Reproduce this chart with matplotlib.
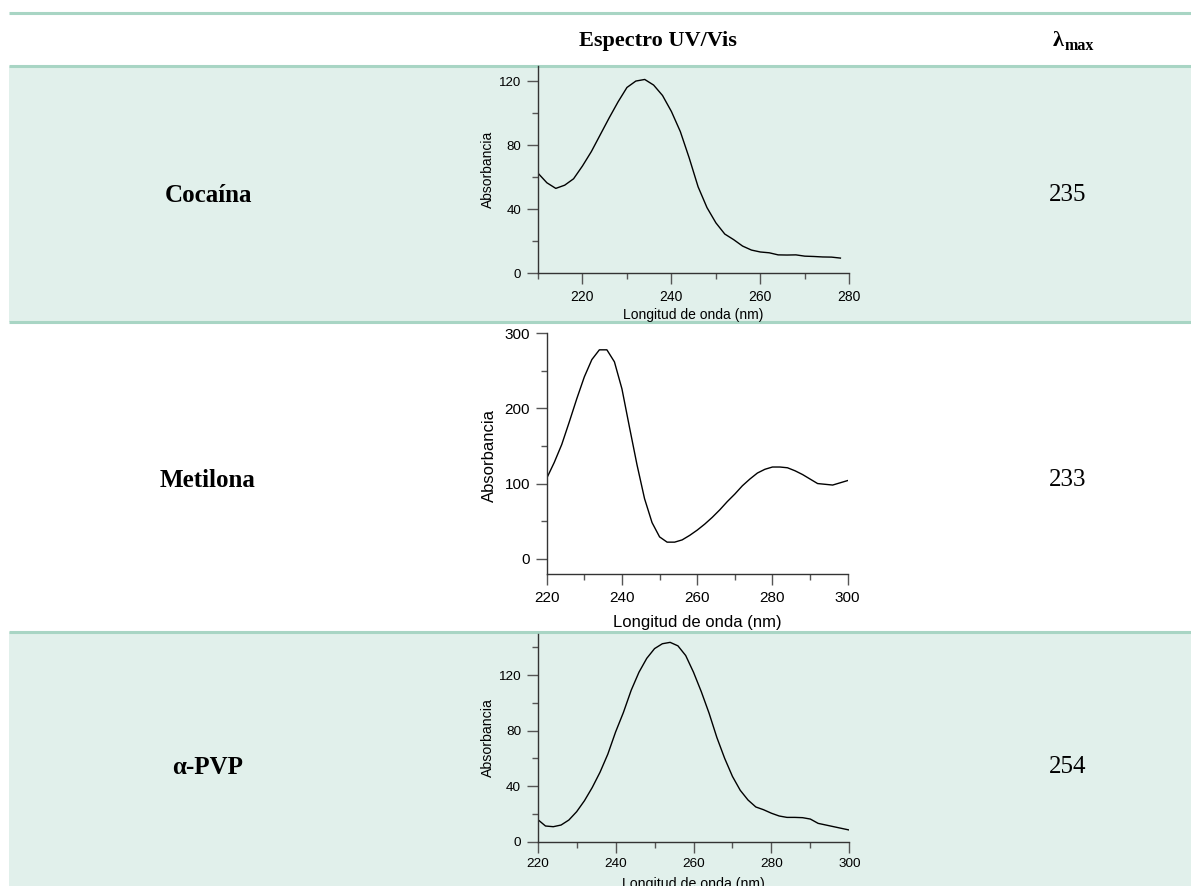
import matplotlib
matplotlib.use("Agg")
import matplotlib.pyplot as plt
from matplotlib.ticker import MultipleLocator

# --- data ---
compounds = ["Cocaína", "Metilona", "α-PVP"]
lambda_max = ["235", "233", "254"]

coca_nm = [210, 212, 214, 216, 218, 220, 222, 224, 226, 228, 230, 232, 234, 236, 238, 240,
           242, 244, 246, 248, 250, 252, 254, 256, 258, 260, 262, 264, 266, 268, 270, 272,
           274, 276, 278]
coca_abs = [62.5, 56.5, 53, 55, 59, 67, 76, 86.5, 97, 107, 116, 120, 121, 117.5, 111, 101,
            88.5, 72, 54, 41, 31.5, 24.5, 21, 17, 14.5, 13.3, 12.8, 11.5, 11.4, 11.5, 10.7,
            10.5, 10.2, 10.1, 9.5]

meti_nm = [220, 222, 224, 226, 228, 230, 232, 234, 236, 238, 240, 242, 244, 246, 248, 250,
           252, 254, 256, 258, 260, 262, 264, 266, 268, 270, 272, 274, 276, 278, 280, 282,
           284, 286, 288, 290, 292, 294, 296, 298, 300]
meti_abs = [107, 128, 152, 182, 213, 242, 265, 278, 278, 262, 226, 175, 125, 80, 48, 29,
            22, 22, 25, 31, 38, 46, 55, 65, 76, 86, 97, 106, 114, 119, 122, 122,
            121, 117, 112, 106, 100, 99, 98, 101, 104]

pvp_nm = [220, 222, 224, 226, 228, 230, 232, 234, 236, 238, 240, 242, 244, 246, 248, 250,
          252, 254, 256, 258, 260, 262, 264, 266, 268, 270, 272, 274, 276, 278, 280, 282,
          284, 286, 288, 290, 292, 294, 296, 298, 300]
pvp_abs = [16, 11.3, 10.8, 12, 15.6, 21.6, 29.5, 39, 50, 63, 79, 93, 109, 122, 132, 139,
           142.5, 143.5, 141, 134, 122, 108, 92.5, 75, 60, 47, 37, 30, 25, 23, 20.5, 18.5,
           17.5, 17.5, 17.3, 16.3, 13.2, 12, 10.8, 9.6, 8.4]

W, H = 1191, 886
SHADE = "#e1f0eb"
LINE = "#a8d5c4"
SANS = ["Liberation Sans", "DejaVu Sans"]
SERIF = ["Liberation Serif", "DejaVu Serif"]

fig = plt.figure(figsize=(W / 100, H / 100), dpi=100)

def fx(x): return x / W
def fy(y): return 1 - y / H

def box(l, t, r, b):
    return [l / W, 1 - b / H, (r - l) / W, (b - t) / H]

# table background and rules
bg = fig.add_axes([0, 0, 1, 1])
bg.set_xlim(0, W)
bg.set_ylim(H, 0)
bg.axis("off")
bg.axhspan(66, 322, xmin=9 / W, xmax=1, color=SHADE, lw=0)
bg.axhspan(632, H, xmin=9 / W, xmax=1, color=SHADE, lw=0)
for yl in [13, 66, 322, 632]:
    bg.plot([9, W], [yl, yl], color=LINE, lw=2.2, solid_capstyle="butt")

bg.text(658, 41, "Espectro UV/Vis", ha="center", va="center", fontsize=16,
        fontweight="bold", family=SERIF)
bg.text(1058, 41, "λ", ha="center", va="center", fontsize=16, fontweight="bold", family=SERIF)
bg.text(1065, 46, "max", ha="left", va="center", fontsize=11.5, fontweight="bold", family=SERIF)

row_y = [195, 480, 767]
for name, val, yy in zip(compounds, lambda_max, row_y):
    bg.text(208, yy, name, ha="center", va="center", fontsize=18, fontweight="bold", family=SERIF)
    bg.text(1068, yy, val, ha="center", va="center", fontsize=18, family=SERIF)


def spectrum(rect, x, y, xlim, ylim, xmaj, xmin_, ymaj, ymin_, tfx, tfy, lab, ylab_pos, xlab_pos):
    ax = fig.add_axes(box(*rect))
    ax.patch.set_alpha(0)
    ax.plot(x, y, color="black", lw=1.0)
    ax.set_xlim(*xlim)
    ax.set_ylim(*ylim)
    for s in ["top", "right"]:
        ax.spines[s].set_visible(False)
    for s in ["left", "bottom"]:
        ax.spines[s].set_color("#333333")
        ax.spines[s].set_linewidth(1.0)
    ax.xaxis.set_major_locator(MultipleLocator(xmaj))
    ax.xaxis.set_minor_locator(MultipleLocator(xmin_))
    ax.yaxis.set_major_locator(MultipleLocator(ymaj))
    ax.yaxis.set_minor_locator(MultipleLocator(ymin_))
    ax.tick_params(which="major", direction="out", length=8, width=1, color="#555555", pad=4)
    ax.tick_params(which="minor", direction="out", length=4, width=1, color="#555555")
    ax.tick_params(axis="x", labelsize=tfx)
    ax.tick_params(axis="y", labelsize=tfy)
    for t in ax.get_xticklabels() + ax.get_yticklabels():
        t.set_family(SANS)
    fig.text(fx(ylab_pos[0]), fy(ylab_pos[1]), "Absorbancia", rotation=90, ha="center",
             va="center", fontsize=lab, family=SANS)
    fig.text(fx(xlab_pos[0]), fy(xlab_pos[1]), "Longitud de onda (nm)", ha="center",
             va="center", fontsize=lab, family=SANS)
    return ax

ax1 = spectrum((538, 66, 849.3, 273.3), coca_nm, coca_abs, (210, 280), (0, 129.4),
               20, 10, 40, 20, 10, 9.5, 10, (488, 169), (693, 315))
ax1.xaxis.set_minor_locator(MultipleLocator(10))
ax1.set_xticks([220, 240, 260, 280])

ax2 = spectrum((546.7, 333.3, 847.7, 574), meti_nm, meti_abs, (220, 300), (-20.4, 300),
               20, 10, 100, 50, 11, 11, 12, (489, 455), (697, 622))

ax3 = spectrum((537.7, 634.3, 849.3, 841.7), pvp_nm, pvp_abs, (220, 300), (0, 149.3),
               20, 10, 40, 20, 9.7, 9.7, 10.2, (488, 738), (693, 884))

fig.savefig("out.png", dpi=100)
